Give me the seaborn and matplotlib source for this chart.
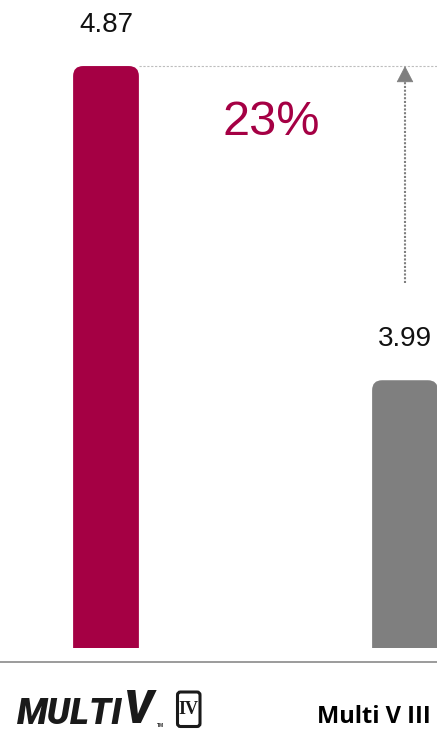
import matplotlib
matplotlib.use("Agg")
import matplotlib.pyplot as plt
from matplotlib.patches import FancyBboxPatch
from matplotlib.lines import Line2D
import seaborn as sns
import pandas as pd

# chart data
categories = ["Multi V IV", "Multi V III"]
values = [4.87, 3.99]
value_labels = ["4.87", "3.99"]
gain_label = "23%"
bar_colors = ["#A50044", "#7F7F7F"]

W, H, DPI = 437, 733, 100

sns.set_theme(style="white")
plt.rcParams["font.family"] = ["Liberation Sans", "DejaVu Sans"]

fig = plt.figure(figsize=(W / DPI, H / DPI), dpi=DPI)
fig.patch.set_facecolor("white")


def fx(px):
    return px / W


def fy(py):
    return 1 - py / H


# plotting area: from the bar baseline up to the top of the figure
ax = fig.add_axes([0, fy(648), 1, 648 / H])
df = pd.DataFrame({"model": categories, "score": values})
sns.barplot(data=df, x="model", y="score", hue="model", palette=bar_colors,
            width=0.22, legend=False, ax=ax, saturation=1)
ax.set_xlim(-0.3545, 1.107)
ax.set_ylim(3.24, 5.055)
ax.set_axis_off()

# swap the plain bars for ones with rounded top corners
x_per_px = (1.107 + 0.3545) / W
y_per_px = (5.055 - 3.24) / 648
radius_px = 10
for patch, color in zip(list(ax.patches), bar_colors):
    x0, w = patch.get_x(), patch.get_width()
    y0, h = patch.get_y(), patch.get_height()
    patch.remove()
    rounded = FancyBboxPatch(
        (x0, y0), w, h,
        boxstyle=f"round,pad=0,rounding_size={radius_px * x_per_px}",
        mutation_aspect=y_per_px / x_per_px,
        facecolor=color, edgecolor="none")
    ax.add_patch(rounded)

# value labels above the bars
for i, (v, lab) in enumerate(zip(values, value_labels)):
    ax.annotate(lab, xy=(i, v), xytext=(0, 29.5), textcoords="offset points",
                ha="center", va="center", fontsize=20, color="#111111",
                annotation_clip=False)

# reference line at the taller bar's height
ax.plot([0.11, 1.107], [values[0], values[0]], color="#BDBDBD", lw=0.8,
        ls=(0, (2, 1.5)), clip_on=False)

# dotted arrow pointing up to the reference line
arrow_tail = 4.262
head_len = 0.042
ax.plot([1, 1], [arrow_tail, values[0] - head_len * 0.8], color="#7F7F7F",
        lw=1.5, ls=(0, (1, 0.8)), dash_capstyle="butt")
ax.annotate("", xy=(1, values[0]), xytext=(1, values[0] - head_len),
            arrowprops=dict(arrowstyle="-|>,head_length=1.08,head_width=0.56",
                            color="#7F7F7F", lw=0.5, shrinkA=0, shrinkB=0,
                            mutation_scale=10),
            annotation_clip=False)

# improvement label
ax.text(0.552, 4.711, gain_label, ha="center", va="center", fontsize=35,
        color=bar_colors[0])

# baseline rule under the bars
fig.add_artist(Line2D([0, 1], [fy(662), fy(662)], color="#808080", lw=1.1))

# Multi V IV wordmark
logo_font = ["Roboto", "DejaVu Sans"]
fig.text(fx(17), fy(732), "MULTI", ha="left", va="bottom", fontsize=26,
         fontweight="black", fontstyle="italic", family=logo_font,
         color="#1a1a1a")
fig.text(fx(124), fy(732), "V", ha="left", va="bottom", fontsize=33,
         fontweight="black", fontstyle="italic", family=logo_font,
         color="#1a1a1a")
fig.text(fx(157), fy(727), "TM", ha="left", va="baseline", fontsize=3.5,
         fontweight="bold", color="#1a1a1a")
box = FancyBboxPatch((1.775, 0.065), 0.225, 0.345,
                     boxstyle="round,pad=0,rounding_size=0.03",
                     transform=fig.dpi_scale_trans, facecolor="white",
                     edgecolor="#1a1a1a", lw=2.2)
fig.add_artist(box)
fig.text(fx(188), fy(709), "IV", ha="center", va="center", fontsize=13,
         fontweight="bold", family=["Liberation Serif", "DejaVu Serif"],
         color="#1a1a1a")

# Multi V III caption
fig.text(fx(317), fy(723), "Multi V III", ha="left", va="baseline",
         fontsize=17, fontweight="bold", family=["Open Sans", "DejaVu Sans"],
         color="black")

fig.savefig("out.png", dpi=DPI, facecolor="white")
